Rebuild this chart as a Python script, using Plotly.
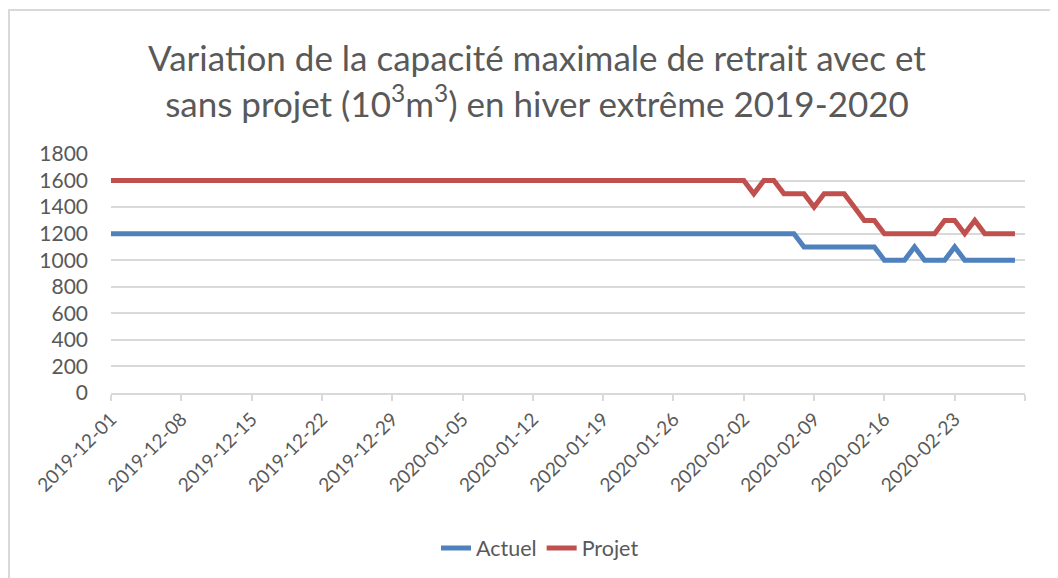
import pandas as pd
import plotly.graph_objects as go

start_date = "2019-12-01"
n_days = 91
dates = pd.date_range(start_date, periods=n_days, freq="D")

# Values (10^3 m^3) per day, 2019-12-01 .. 2020-02-29
actuel = [1200] * 69 + [1100] * 8 + [1000, 1000, 1000, 1100, 1000, 1000, 1000, 1100,
                                     1000, 1000, 1000, 1000, 1000, 1000]
projet = [1600] * 64 + [1500, 1600, 1600, 1500, 1500, 1500, 1400, 1500, 1500, 1500,
                        1400, 1300, 1300, 1200, 1200, 1200, 1200, 1200, 1200, 1300,
                        1300, 1200, 1300, 1200, 1200, 1200, 1200]

series_names = ["Actuel", "Projet"]
series_colors = ["#4F81BD", "#C0504D"]

tick_dates = pd.date_range(start_date, "2020-03-01", freq="7D")
tick_labels = [d.strftime("%Y-%m-%d") for d in tick_dates[:-1]] + [""]

y_ticks = list(range(0, 1801, 200))

title_text = ("Variation de la capacité maximale de retrait avec et<br>"
              "sans projet (10<sup>3</sup>m<sup>3</sup>) en hiver extrême 2019-2020")

FONT = "Lato"
GRAY_TXT = "#595959"
GRID = "#D9D9D9"

fig = go.Figure()
for name, vals, col in zip(series_names, [actuel, projet], series_colors):
    fig.add_trace(go.Scatter(
        x=dates, y=vals, mode="lines", name=name,
        line=dict(color=col, width=5, shape="linear"),
    ))

# page has an 8px body margin: positions below are in figure pixels
OFF = 8
W, H = 1058, 578
L, R, T, B = 111 - OFF, 1025 - OFF, 154 - OFF, 393 - OFF

fig.update_layout(
    width=W, height=H,
    margin=dict(l=L, r=W - R, t=T, b=H - B),
    paper_bgcolor="white", plot_bgcolor="white",
    font=dict(family=FONT, color=GRAY_TXT, size=20),
    title=dict(text=title_text, font=dict(family=FONT, size=35, color=GRAY_TXT),
               x=0.5, xanchor="center", xref="container",
               y=1 - 63 / H, yanchor="middle", yref="container"),
    showlegend=True,
    legend=dict(orientation="h", x=(540 - OFF) / W, xanchor="center", xref="container",
                y=1 - (548 - OFF) / H, yanchor="middle", yref="container",
                font=dict(size=21.5, color=GRAY_TXT)),
    xaxis=dict(
        type="date",
        range=[tick_dates[0], tick_dates[-1]],
        tickvals=list(tick_dates), ticktext=tick_labels,
        tickangle=-45,
        showgrid=False,
        showline=True, linecolor=GRID, linewidth=1.5,
        ticks="outside", ticklen=6, tickcolor=GRID, tickwidth=1.5,
        tickfont=dict(size=19, color=GRAY_TXT),
        zeroline=False,
    ),
    yaxis=dict(
        range=[0, 1800],
        tickvals=y_ticks,
        showgrid=True, gridcolor=GRID, gridwidth=1.5,
        showline=False, zeroline=False,
        ticks="", tickfont=dict(size=21, color=GRAY_TXT),
        ticklabelstandoff=22,
    ),
)

# outer chart border (top-left corner visible)
fig.add_shape(type="rect", xref="paper", yref="paper",
              x0=(1 - L) / (R - L), x1=(1075 - L) / (R - L),
              y0=(B - 600) / (B - T), y1=(B - 2) / (B - T),
              line=dict(color=GRID, width=2), fillcolor="rgba(0,0,0,0)", layer="below")

fig.write_html("out.html")
